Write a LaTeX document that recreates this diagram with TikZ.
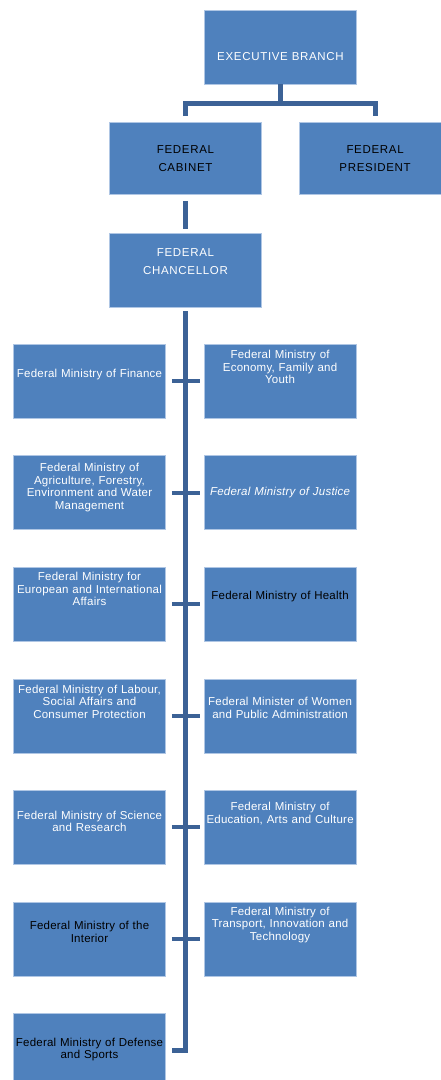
\documentclass[tikz,border=0pt]{standalone}
\usepackage{fontspec}
\setmainfont{Liberation Sans}
\newfontfamily\orgfont[LetterSpace=2]{Liberation Sans}
\newfontfamily\capsfont[LetterSpace=6]{Liberation Sans}
\usetikzlibrary{positioning}

\definecolor{boxblue}{RGB}{79,129,189}
\definecolor{linkblue}{RGB}{60,98,150}
\definecolor{edgeblue}{RGB}{175,198,228}

\tikzset{
  box/.style={rectangle, fill=boxblue, draw=edgeblue, line width=0.6pt,
    minimum width=152pt, minimum height=74pt, inner sep=0pt},
  txt/.style={text width=152pt, align=center, inner sep=0pt, text=white,
    font={\orgfont\fontsize{11.5}{12.5}\selectfont}},
  dtxt/.style={txt, text=black},
  itxt/.style={txt, font={\orgfont\itshape\fontsize{11.5}{12.5}\selectfont}},
  caps/.style={txt, font={\capsfont\fontsize{11.5}{17.5}\selectfont}},
  dcaps/.style={caps, text=black},
  link/.style={draw=linkblue, line width=5pt},
  stub/.style={link, line width=4pt},
}

\begin{document}
\begin{tikzpicture}[x=1pt, y=-1pt]

    \useasboundingbox (0,0) rectangle (440,1080);

    % top of the chart
    \node[box, label={[caps, yshift=-10pt]center:EXECUTIVE BRANCH}] (exec) at (280.5,47) {};
    \node[box, minimum height=72pt, label={[dcaps]center:{FEDERAL\\CABINET}}] (cab) at (185.5,158.5) {};
    \node[box, minimum height=72pt, right=37pt of cab, label={[dcaps]center:{FEDERAL\\PRESIDENT}}] (pres) {};
    \node[box, below=38pt of cab, label={[caps, yshift=8.5pt]center:{FEDERAL\\CHANCELLOR}}] (chan) {};

    % ministries, left column
    \node[box, label={[txt, yshift=6pt]center:Federal Ministry of Finance}] (fin) at (89.5,381) {};
    \node[box, below=37pt of fin, label={[txt, yshift=5pt]center:{Federal Ministry of\\Agriculture, Forestry,\\Environment and Water\\Management}}] (agr) {};
    \node[box, below=37pt of agr, label={[txt, yshift=15pt]center:{Federal Ministry for\\European and International\\Affairs}}] (eur) {};
    \node[box, below=37pt of eur, label={[txt, yshift=14pt]center:{Federal Ministry of Labour,\\Social Affairs and\\Consumer Protection}}] (lab) {};
    \node[box, below=37pt of lab, label={[txt, yshift=6pt]center:{Federal Ministry of Science\\and Research}}] (sci) {};
    \node[box, below=37pt of sci, label={[dtxt, yshift=7pt]center:{Federal Ministry of the\\Interior}}] (int) {};
    \node[box, below=37pt of int, label={[dtxt, yshift=1pt]center:{Federal Ministry of Defense\\and Sports}}] (def) {};

    % ministries, right column
    \node[box, right=38pt of fin, label={[txt, yshift=14pt]center:{Federal Ministry of\\Economy, Family and\\Youth}}] (eco) {};
    \node[box, right=38pt of agr, label={[itxt]center:Federal Ministry of Justice}] (jus) {};
    \node[box, right=38pt of eur, label={[dtxt, yshift=8pt]center:Federal Ministry of Health}] (hea) {};
    \node[box, right=38pt of lab, label={[txt, yshift=8pt]center:{Federal Minister of Women\\and Public Administration}}] (wom) {};
    \node[box, right=38pt of sci, label={[txt, yshift=14pt]center:{Federal Ministry of\\Education, Arts and Culture}}] (edu) {};
    \node[box, right=38pt of int, label={[txt, yshift=14pt]center:{Federal Ministry of\\Transport, Innovation and\\Technology}}] (tra) {};

    % connectors
    \draw[link] (exec.south) -- ++(0,19) coordinate (fork);
    \draw[link] ([yshift=6pt]cab.north) |- (fork) -| ([yshift=6pt]pres.north);
    \draw[link] ([yshift=-6pt]cab.south) -- ([yshift=4pt]chan.north);
    \draw[link] ([yshift=-4pt]chan.south) |- ([xshift=6pt]def.east);

    \foreach \l/\r in {fin/eco, agr/jus, eur/hea, lab/wom, sci/edu, int/tra}
        \draw[stub] ([xshift=6pt]\l.east) -- ([xshift=-4pt]\r.west);

\end{tikzpicture}
\end{document}
